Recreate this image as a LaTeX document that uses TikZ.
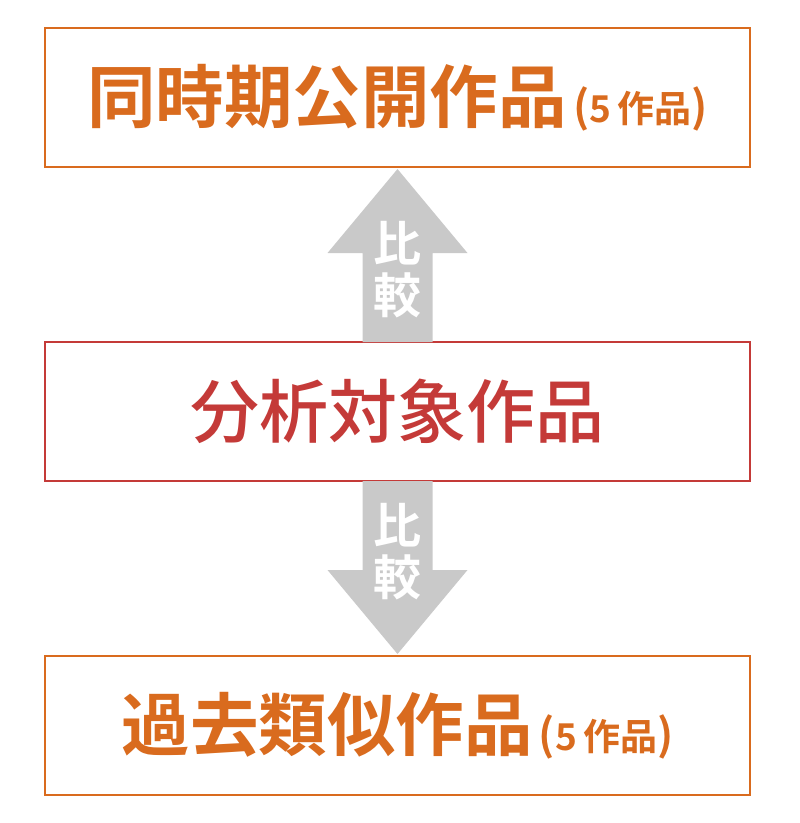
\documentclass[tikz,border=0pt]{standalone}
\usepackage{fontspec}
\newfontfamily\jp{Noto Sans CJK JP}[BoldFont={* Bold}]
\newfontfamily\jpmid{Noto Sans CJK JP Medium}

\definecolor{workorange}{RGB}{217,107,30}
\definecolor{workred}{RGB}{196,58,56}
\definecolor{arrowgray}{RGB}{201,201,201}

\tikzset{
  workbox/.style={draw, line width=2pt, minimum width=705pt, minimum height=139pt, inner sep=0pt, outer sep=0pt},
  bigtext/.style={font=\jp\bfseries\fontsize{68.5}{68.5}\selectfont},
  comparearrow/.style={fill=arrowgray, draw=none},
  comparetext/.style={white, align=center, font=\jp\bfseries\fontsize{48}{52}\selectfont}
}

\newcommand{\fivework}{{\fontsize{37}{37}\selectfont\,{\fontsize{43}{43}\selectfont(}5\,作品{\fontsize{43}{43}\selectfont)}}}

\begin{document}
\begin{tikzpicture}[x=1pt, y=-1pt]
  \useasboundingbox (0,0) rectangle (800,823);

  % three boxes
  \node[workbox, draw=workorange, text=workorange, bigtext] (same) at (397.5,97.5) {同時期公開作品\fivework};
  \node[workbox, draw=workred, text=workred, font=\jpmid\fontsize{69}{69}\selectfont] (target) at (397.5,411.5) {分析対象作品};
  \node[workbox, draw=workorange, text=workorange, bigtext] (past) at (397.5,725.5) {過去類似作品\fivework};

  % comparison arrows
  \path[comparearrow] ([xshift=-35pt] target.north) -- ++(0,-89) -- ++(-35,0)
    -- ([yshift=-2pt] same.south) -- ++(70,84) -- ++(-35,0) -- ([xshift=35pt] target.north) -- cycle;
  \path[comparearrow] ([xshift=-35pt] target.south) -- ++(0,89) -- ++(-35,0)
    -- ([yshift=2pt] past.north) -- ++(70,-84) -- ++(-35,0) -- ([xshift=35pt] target.south) -- cycle;

  \node[comparetext] (uplabel) at ([yshift=72pt] target.north) {比\\較};
  \node[comparetext] (downlabel) at ([yshift=-71pt] target.south) {比\\較};

\end{tikzpicture}
\end{document}
